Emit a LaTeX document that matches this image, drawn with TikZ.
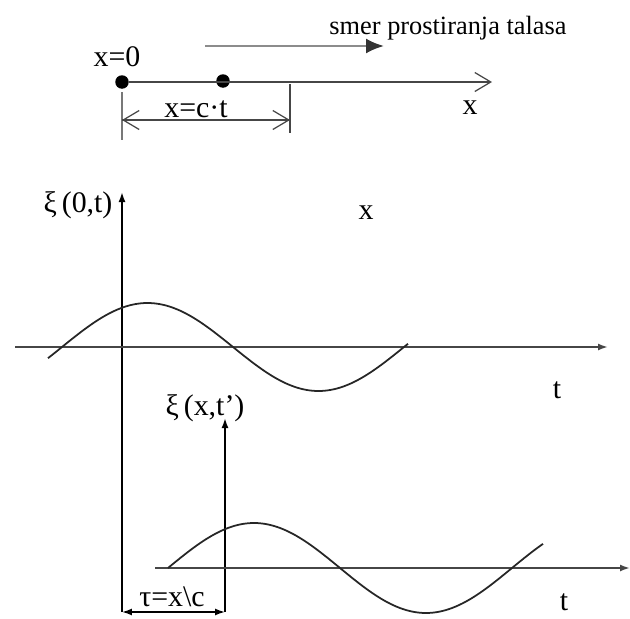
\documentclass[tikz,border=0pt]{standalone}
\usepackage{fontspec}
\setmainfont{Liberation Serif}
\usetikzlibrary{arrows.meta}
\definecolor{AxisGray}{RGB}{70,70,70}
\definecolor{DirGray}{RGB}{140,140,140}
\definecolor{TickGray}{RGB}{120,120,120}

\begin{document}
\begin{tikzpicture}[x=0.02cm,y=-0.02cm,
  lbl/.style={font=\fontsize{17}{20}\selectfont,inner sep=0pt},
  axisline/.style={AxisGray,line width=1pt},
  dot/.style={circle,fill=black,inner sep=0pt,minimum size=0.27cm},
  wave/.style={black!85,line width=1pt},
  openTip/.style={-{Straight Barb[length=3.2mm,width=3.8mm,line width=0.7pt]}},
  solidTip/.style={-{Latex[length=2mm,width=1.4mm]}}]
  \useasboundingbox (0,0) rectangle (630,619);

  % x axis with the two points
  \node[dot] (o) at (122,82) {};
  \node[dot] (p) at (223,81) {};
  \coordinate (xend) at (492,82);
  \draw[axisline,openTip] (o) -- (xend);
  \node[lbl] (x0) at (117,57) {x=0};
  \node[lbl] (xlab) at (470,108) {x};

  % direction of propagation
  \node[font=\fontsize{15}{18}\selectfont,inner sep=0pt] (dir) at (448,28) {smer prostiranja talasa};
  \coordinate (dirA) at (205,46);
  \coordinate (dirB) at (384,46);
  \draw[DirGray,line width=1.3pt,-{Latex[length=3.6mm,width=3mm,black!80]}] (dirA) -- (dirB);

  % distance x = c t
  \coordinate (tkA) at (122,92);  \coordinate (tkB) at (122,140);
  \coordinate (tkC) at (290,84);  \coordinate (tkD) at (290,133);
  \draw[TickGray,line width=1pt] (tkA) -- (tkB);
  \draw[AxisGray,line width=0.8pt] (tkC) -- (tkD);
  \coordinate (dA) at (122,120);  \coordinate (dB) at (290,120);
  \draw[AxisGray,line width=0.8pt,openTip] (dA) -- (dB);
  \draw[AxisGray,line width=0.8pt,openTip] (dB) -- (dA);
  \node[lbl,anchor=base] (ct) at (196,117) {x=c·t};

  % signal at x=0
  \coordinate (v1a) at (122,612);  \coordinate (v1b) at (122,192);
  \draw[black,line width=1pt,solidTip] (v1a) -- (v1b);
  \coordinate (h1a) at (15,347);   \coordinate (h1b) at (608,347);
  \draw[axisline,solidTip] (h1a) -- (h1b);
  \draw[wave] plot[domain=48:408,samples=80,smooth] (\x,{347-44*sin((\x-62)/171*180)});
  \node[lbl] (xi0) at (78,205) {ξ\,(0,t)};
  \node[lbl] (xmid) at (366,213) {x};
  \node[lbl] (t1) at (557,390) {t};

  % signal at x
  \coordinate (v2a) at (225,612);  \coordinate (v2b) at (225,418);
  \draw[black,line width=1pt,solidTip] (v2a) -- (v2b);
  \coordinate (h2a) at (155,568);  \coordinate (h2b) at (630,568);
  \draw[axisline,solidTip] (h2a) -- (h2b);
  \draw[wave] plot[domain=168:543,samples=80,smooth] (\x,{568-45*sin((\x-168)/172*180)});
  \node[lbl] (xix) at (205,408) {ξ\,(x,t')};
  \node[lbl] (t2) at (564,602) {t};

  % delay tau
  \draw[black,line width=0.9pt,{Latex[length=2mm,width=1.4mm]}-{Latex[length=2mm,width=1.4mm]}] (v1a) -- (v2a);
  \node[lbl] (tau) at (172,597) {τ=x\textbackslash c};
\end{tikzpicture}
\end{document}
